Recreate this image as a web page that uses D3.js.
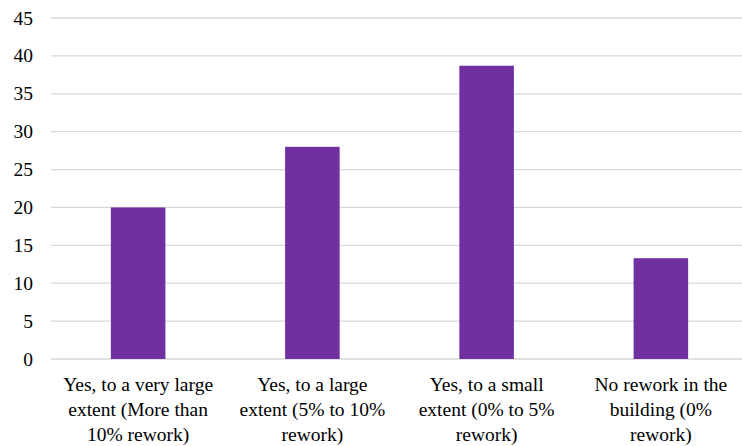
<!DOCTYPE html>
<html>
<head>
<meta charset="utf-8">
<script src="https://cdn.jsdelivr.net/npm/d3@7"></script>
<style>
  html, body { margin: 0; padding: 0; background: #fff; }
  #wrap { position: relative; width: 742px; height: 446px; }
  svg { display: block; position: absolute; left: 0; top: 0; }
  .lbl { position: absolute; font-family: "Liberation Serif", "Times New Roman", Tinos, serif; color: #000; white-space: nowrap; line-height: 25px; }
</style>
</head>
<body>
<div id="wrap"><svg id="chart" width="742" height="446"></svg></div>
<script>
const categories = [
  ["Yes, to a very large", "extent (More than", "10% rework)"],
  ["Yes, to a large", "extent (5% to 10%", "rework)"],
  ["Yes, to a small", "extent (0% to 5%", "rework)"],
  ["No rework in the", "building (0%", "rework)"]
];
const values = [20, 28, 38.7, 13.3];
const yTicks = [0, 5, 10, 15, 20, 25, 30, 35, 40, 45];

const svg = d3.select("#chart");
const wrap = d3.select("#wrap");
const fontSize = 19.5;

const x = d3.scaleBand()
  .domain(d3.range(categories.length))
  .range([51, 748])
  .paddingInner(0.687)
  .paddingOuter(0.3435);

const y = d3.scaleLinear().domain([0, 45]).range([359, 18]);

// gridlines
svg.append("g")
  .selectAll("line")
  .data(yTicks)
  .join("line")
  .attr("x1", 51).attr("x2", 742)
  .attr("y1", d => y(d)).attr("y2", d => y(d))
  .attr("stroke", "#d9d9d9").attr("stroke-width", 1.3);

// bars
svg.append("g")
  .selectAll("rect")
  .data(values)
  .join("rect")
  .attr("x", (d, i) => x(i))
  .attr("width", x.bandwidth())
  .attr("y", d => y(d))
  .attr("height", d => y(0) - y(d))
  .attr("fill", "#7030a0");

// y-axis labels (HTML, positioned with the y scale)
wrap.selectAll("div.ytick")
  .data(yTicks)
  .join("div")
  .attr("class", "lbl ytick")
  .style("font-size", fontSize + "px")
  .style("right", (742 - 33) + "px")
  .style("top", d => (y(d) - 12.5) + "px")
  .style("text-align", "right")
  .text(d => d);

// x labels (HTML, positioned with the band scale)
wrap.selectAll("div.xlab")
  .data(categories)
  .join("div")
  .attr("class", "lbl xlab")
  .style("font-size", fontSize + "px")
  .style("width", "200px")
  .style("text-align", "center")
  .style("left", (d, i) => (x(i) + x.bandwidth() / 2 - 100) + "px")
  .style("top", "372px")
  .html(d => d.map(s => s.replace(/&/g, "&amp;")).join("<br>"));
</script>
</body>
</html>
